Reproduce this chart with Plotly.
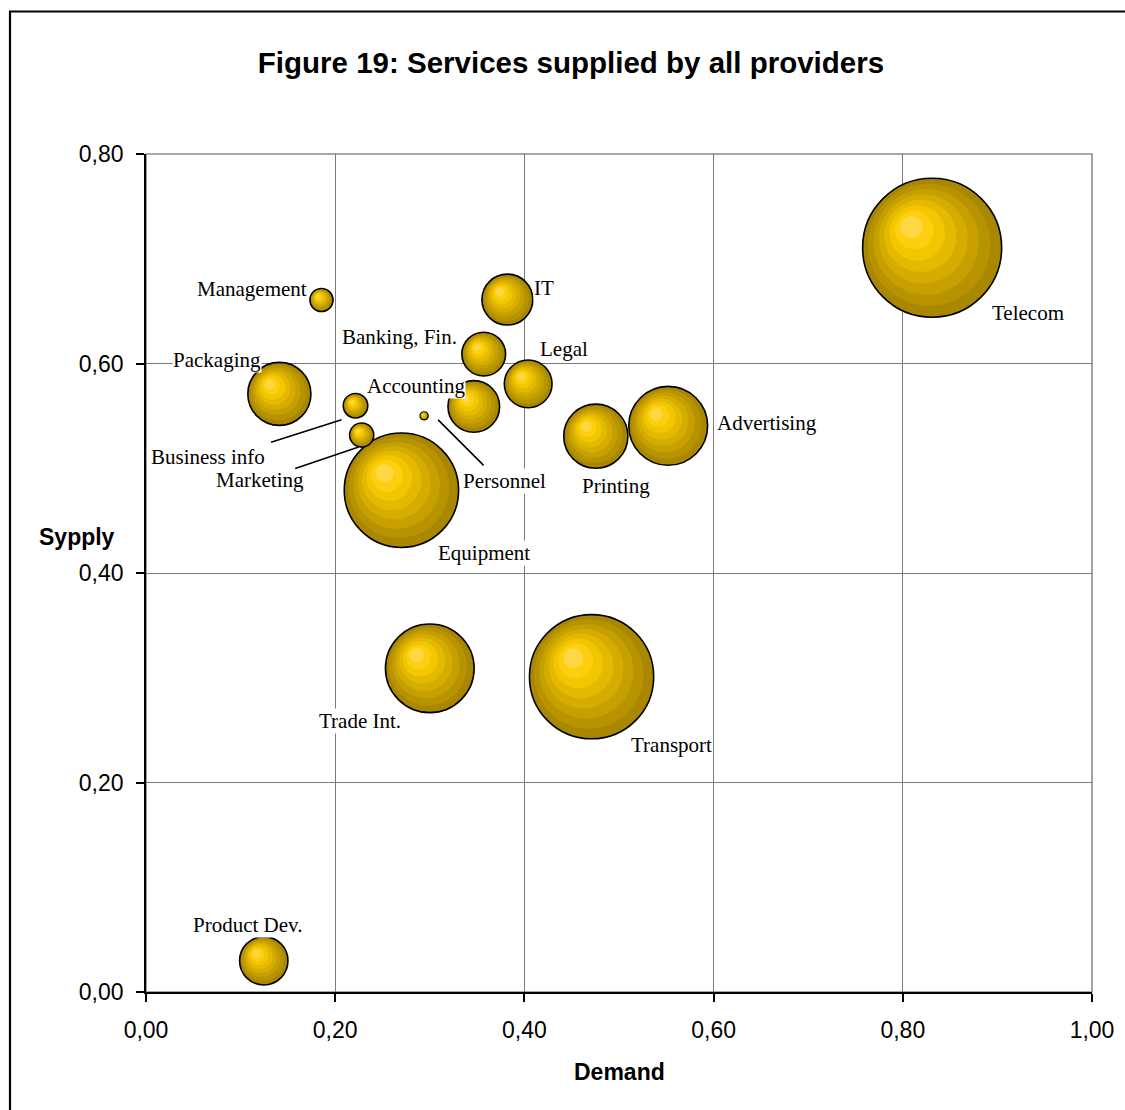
import math
import plotly.graph_objects as go

# ---------------- data ----------------
services = ["Telecom", "Transport", "Equipment", "Trade Int.", "Advertising", "Printing",
            "Packaging", "Accounting", "IT", "Product Dev.", "Legal", "Banking, Fin.",
            "Business info", "Marketing", "Management", "Personnel"]
demand = [0.831, 0.471, 0.270, 0.300, 0.552, 0.4755,
          0.141, 0.3465, 0.382, 0.1245, 0.404, 0.357,
          0.2215, 0.228, 0.1855, 0.294]
supply = [0.7105, 0.301, 0.479, 0.309, 0.5405, 0.5306,
          0.571, 0.559, 0.661, 0.0298, 0.5806, 0.609,
          0.5597, 0.5317, 0.6606, 0.550]
bubble_size = [100, 79.9, 67.7, 40.7, 32.2, 21.3,
               20.6, 13.8, 13.4, 12.1, 11.8, 9.9,
               3.1, 3.0, 2.75, 0.32]
x_ticks = [0.0, 0.2, 0.4, 0.6, 0.8, 1.0]
y_ticks = [0.0, 0.2, 0.4, 0.6, 0.8]

# ---------------- layout constants ----------------
W, H = 1125, 1110
ML, MR, MT, MB = 146, 33, 154, 118
PW, PH = W - ML - MR, H - MT - MB
X_RANGE, Y_RANGE = [0, 1.0], [0, 0.8]
PX_PER_X = PW / (X_RANGE[1] - X_RANGE[0])
PX_PER_Y = PH / (Y_RANGE[1] - Y_RANGE[0])
R_MAX = 69.5  # radius in px of the biggest bubble

def px_to_paper(px, py):
    return (px - ML) / PW, (H - MB - py) / PH

# label offsets (px) relative to bubble centre: (xshift, yshift)
label_offsets = {
    "Telecom": (96, -65), "Transport": (80, -68), "Equipment": (83, -63),
    "Trade Int.": (-70, -53), "Advertising": (99, 3), "Printing": (20, -50),
    "Packaging": (-62, 34), "Accounting": (-58, 20), "IT": (37, 12),
    "Product Dev.": (-16, 36), "Legal": (36, 35), "Banking, Fin.": (-84, 17),
    "Business info": (-148, -51), "Marketing": (-102, -45), "Management": (-69, 11),
    "Personnel": (80, -65),
}
# leader lines: (head xshift, head yshift, ax, ay)
leaders = {
    "Business info": (-14, -14, -72, 23),
    "Marketing": (-3, -12, -65, 22),
    "Personnel": (14, -4, 47, 47),
}

fig = go.Figure()

# layered bubbles to imitate an off-centre radial gradient
scales = [1.0, 0.88, 0.76, 0.64, 0.52, 0.40, 0.28, 0.16]
colors = ["#A98700", "#B79300", "#C6A000", "#D5AD00", "#E4BA00", "#F2C600", "#FDCF10", "#FFD843"]
vmax = max(bubble_size)
sizeref = vmax / (2 * R_MAX ** 2)
C_OFF = 0.5
for i, (s, col) in enumerate(zip(scales, colors)):
    xs, ys, sz = [], [], []
    for d, sp, v in zip(demand, supply, bubble_size):
        r = R_MAX * math.sqrt(v / vmax)
        mag = C_OFF * (1 - s) * r / math.sqrt(2)
        xs.append(d - mag / PX_PER_X)
        ys.append(sp + mag / PX_PER_Y)
        sz.append(v * s * s)
    fig.add_trace(go.Scatter(
        x=xs, y=ys, mode="markers", hoverinfo="skip", showlegend=False, cliponaxis=False,
        marker=dict(size=sz, sizemode="area", sizeref=sizeref, color=col, opacity=1,
                    line=dict(color="black", width=1.6 if i == 0 else 0)),
    ))

annotations = []
for name, d, sp in zip(services, demand, supply):
    xs_, ys_ = label_offsets[name]
    annotations.append(dict(
        x=d, y=sp, xref="x", yref="y", text=name, showarrow=False,
        xshift=xs_, yshift=ys_, bgcolor="white", borderpad=0,
        font=dict(family="Liberation Serif", size=21, color="black"),
    ))
    if name in leaders:
        hx, hy, ax, ay = leaders[name]
        annotations.append(dict(
            x=d, y=sp, xref="x", yref="y", text="", showarrow=True, arrowhead=0,
            arrowwidth=1.6, arrowcolor="black", ax=ax, ay=ay, standoff=0, startstandoff=0,
            xshift=hx, yshift=hy,
        ))

# axis titles
sx, sy = px_to_paper(76.5, 537)
dx_, dy_ = px_to_paper(619, 1072)
annotations.append(dict(x=sx, y=sy, xref="paper", yref="paper", text="Sypply", showarrow=False,
                        xanchor="center", yanchor="middle",
                        font=dict(family="Liberation Sans", size=23, color="black", weight="bold")))
annotations.append(dict(x=dx_, y=dy_, xref="paper", yref="paper", text="Demand", showarrow=False,
                        xanchor="center", yanchor="middle",
                        font=dict(family="Liberation Sans", size=23, color="black", weight="bold")))

bx0, by1 = px_to_paper(10, 11.5)
bx1, by0 = px_to_paper(1135, 1120)
shapes = [
    dict(type="rect", xref="paper", yref="paper", x0=0, x1=1, y0=0, y1=1,
         line=dict(color="#8c8c8c", width=1.6), layer="below"),
    dict(type="rect", xref="paper", yref="paper", x0=bx0, x1=bx1, y0=by0, y1=by1,
         line=dict(color="black", width=2.2), layer="above"),
]

fig.update_layout(
    width=W, height=H,
    margin=dict(l=ML, r=MR, t=MT, b=MB),
    paper_bgcolor="white", plot_bgcolor="white",
    separators=", ",
    title=dict(text="Figure 19: Services supplied by all providers",
               x=571 / W, xanchor="center", y=1 - 63 / H, yanchor="middle", yref="container",
               font=dict(family="Liberation Sans", size=29.5, color="black", weight="bold")),
    xaxis=dict(range=X_RANGE, tickvals=x_ticks, tickformat=".2f", ticks="outside", ticklen=8,
               tickwidth=1.5, tickcolor="black", showgrid=True, gridcolor="#7a7a7a", gridwidth=1.2,
               showline=True, linecolor="black", linewidth=1.6, zeroline=False,
               ticklabelstandoff=9,
               tickfont=dict(family="Liberation Sans", size=23, color="black")),
    yaxis=dict(range=Y_RANGE, tickvals=y_ticks, tickformat=".2f", ticks="outside", ticklen=8,
               tickwidth=1.5, tickcolor="black", showgrid=True, gridcolor="#7a7a7a", gridwidth=1.2,
               showline=True, linecolor="black", linewidth=1.6, zeroline=False,
               ticklabelstandoff=8,
               tickfont=dict(family="Liberation Sans", size=23, color="black")),
    annotations=annotations,
    shapes=shapes,
)

fig.write_html("out.html")
